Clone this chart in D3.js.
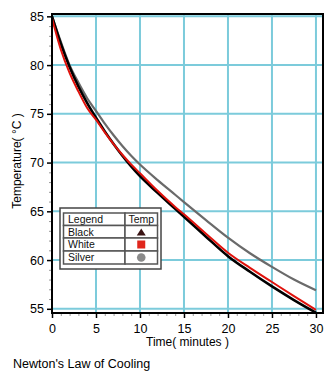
<!DOCTYPE html>
<html><head><meta charset="utf-8">
<script src="https://cdn.jsdelivr.net/npm/d3@7"></script>
<style>
body{margin:0;background:#fff;}
svg{display:block;font-family:"Liberation Sans",Arial,Helvetica,sans-serif;}
</style></head>
<body><svg id="c" width="335" height="380"></svg>
<script>
const times = [0,1,2,3,4,5,6,7,8,9,10,12,14,15,17.5,20,22.5,25,27.5,30];
const blackTemp  = [85.0,82.2,79.8,77.8,76.1,74.6,73.2,71.9,70.7,69.6,68.6,66.9,65.25,64.45,62.4,60.4,58.8,57.3,55.9,54.6];
const whiteTemp  = [84.8,81.6,79.2,77.3,75.6,74.4,73.1,71.9,70.8,69.8,68.9,67.1,65.45,64.7,62.7,60.75,59.2,57.75,56.3,54.9];
const silverTemp = [85.0,82.4,80.0,78.2,76.6,75.3,74.0,72.8,71.7,70.7,69.8,68.2,66.7,65.95,64.1,62.3,60.7,59.3,58.0,56.9];
const xTicks = [0,5,10,15,20,25,30];
const yTicks = [55,60,65,70,75,80,85];
const legendRows = ["Black","White","Silver"];
const legendColors = ["#3a1414","#e0261c","#8a8a8a"];
const lineColors = ["#000000","#e0120c","#6a6a6a"];
const title = "Newton's Law of Cooling";

const svg = d3.select("#c");
const L=52,R=323,T=14,B=313;
const x = d3.scaleLinear().domain([0,30.8]).range([L,R]);
const y = d3.scaleLinear().domain([54.57,85.24]).range([B,T]);
const grid = "#7ccbdb";

// grid
svg.append("g").selectAll("line").data(xTicks.filter(d=>d>0)).join("line")
  .attr("x1",d=>x(d)).attr("x2",d=>x(d)).attr("y1",T).attr("y2",B)
  .attr("stroke",grid).attr("stroke-width",2);
svg.append("g").selectAll("line").data(yTicks).join("line")
  .attr("y1",d=>y(d)).attr("y2",d=>y(d)).attr("x1",L).attr("x2",R)
  .attr("stroke",grid).attr("stroke-width",2);

// minor ticks
const minorX = d3.range(0,31,1).filter(d=>d%5!==0);
const minorY = d3.range(55,86,1).filter(d=>d%5!==0);
svg.append("g").attr("transform",`translate(0,${B})`)
  .call(d3.axisBottom(x).tickValues(minorX).tickSize(3).tickFormat(""))
  .call(g=>{g.select(".domain").remove();g.selectAll("line").attr("stroke","#999");});
svg.append("g").attr("transform",`translate(${L},0)`)
  .call(d3.axisLeft(y).tickValues(minorY).tickSize(3).tickFormat(""))
  .call(g=>{g.select(".domain").remove();g.selectAll("line").attr("stroke","#999");});

// major axes
svg.append("g").attr("transform",`translate(0,${B})`)
  .call(d3.axisBottom(x).tickValues(xTicks).tickSize(5).tickPadding(6))
  .call(g=>{g.select(".domain").remove();
    g.selectAll("line").attr("stroke","#000").attr("stroke-width",1.5);
    g.selectAll("text").attr("font-size",12.5).attr("fill","#000").attr("font-family","Liberation Sans, Arial");});
svg.append("g").attr("transform",`translate(${L},0)`)
  .call(d3.axisLeft(y).tickValues(yTicks).tickSize(5).tickPadding(3))
  .call(g=>{g.select(".domain").remove();
    g.selectAll("line").attr("stroke","#000").attr("stroke-width",1.5);
    g.selectAll("text").attr("font-size",12.5).attr("fill","#000").attr("font-family","Liberation Sans, Arial");});

// lines
const series = [silverTemp, blackTemp, whiteTemp];
const cols = [lineColors[2], lineColors[0], lineColors[1]];
const widths = [2.2, 2.6, 2.0];
const line = d3.line().x((d,i)=>x(times[i])).y(d=>y(d)).curve(d3.curveMonotoneX);
series.forEach((s,k)=>{
  svg.append("path").datum(s).attr("d",line).attr("fill","none")
    .attr("stroke",cols[k]).attr("stroke-width",widths[k]);
});

// border
svg.append("rect").attr("x",L).attr("y",T).attr("width",R-L).attr("height",B-T)
  .attr("fill","none").attr("stroke","#000").attr("stroke-width",2);

// axis titles
svg.append("text").attr("x",(L+R)/2).attr("y",346).attr("text-anchor","middle")
  .attr("font-size",12).text("Time( minutes )");
svg.append("text").attr("transform","translate(21,161) rotate(-90)").attr("text-anchor","middle")
  .attr("font-size",12).text("Temperature( °C )");
svg.append("text").attr("x",13).attr("y",368).attr("font-size",12.5).text(title);

// legend
const lg = svg.append("g");
lg.append("rect").attr("x",60).attr("y",208).attr("width",101).attr("height",61)
  .attr("fill","#fff").attr("stroke","#444").attr("stroke-width",1.5);
const rowY = [213,225.5,238,251,264];
const c0=63.5,c1=125,c2=157.5;
const rows = ["Legend"].concat(legendRows);
rows.forEach((r,i)=>{
  lg.append("rect").attr("x",c0).attr("y",rowY[i]).attr("width",c1-c0).attr("height",rowY[i+1]-rowY[i])
    .attr("fill","#fff").attr("stroke","#555").attr("stroke-width",1.5);
  lg.append("rect").attr("x",c1).attr("y",rowY[i]).attr("width",c2-c1).attr("height",rowY[i+1]-rowY[i])
    .attr("fill","#fff").attr("stroke","#555").attr("stroke-width",1.5);
  lg.append("text").attr("x",68).attr("y",rowY[i]+10).attr("font-size",10.5).attr("fill","#111").text(r);
});
lg.append("text").attr("x",(c1+c2)/2).attr("y",rowY[0]+10).attr("text-anchor","middle")
  .attr("font-size",10.5).attr("fill","#111").text("Temp");
const mx=(c1+c2)/2;
lg.append("path").attr("d",`M${mx-4.5},${rowY[2]-2.5} L${mx+4.5},${rowY[2]-2.5} L${mx},${rowY[1]+3} Z`).attr("fill",legendColors[0]);
lg.append("rect").attr("x",mx-4).attr("y",(rowY[2]+rowY[3])/2-4).attr("width",8).attr("height",8).attr("fill",legendColors[1]);
lg.append("circle").attr("cx",mx).attr("cy",(rowY[3]+rowY[4])/2).attr("r",4.3).attr("fill",legendColors[2]);
</script></body></html>
